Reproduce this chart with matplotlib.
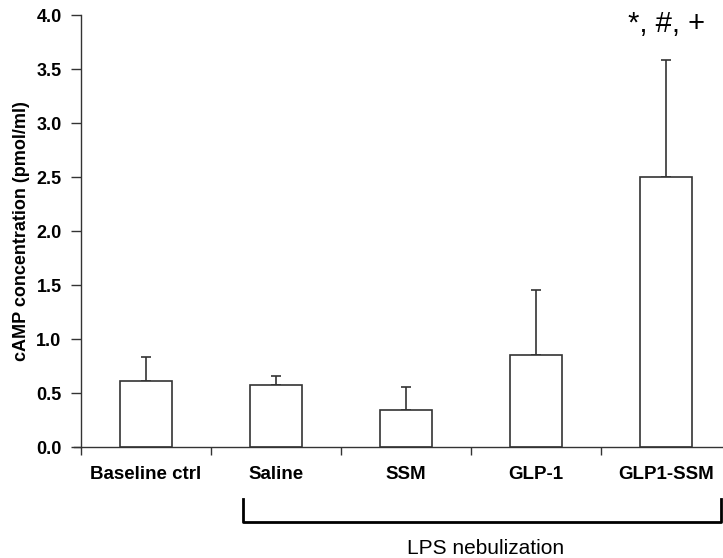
import numpy as np
import matplotlib
matplotlib.use('Agg')
import matplotlib.pyplot as plt
import matplotlib.transforms as mtransforms

# Values
groups = ['Baseline ctrl', 'Saline', 'SSM', 'GLP-1', 'GLP1-SSM']
camp_means = [0.61, 0.57, 0.34, 0.85, 2.50]
camp_sem = [0.22, 0.09, 0.22, 0.60, 1.08]
y_ticks = [0.0, 0.5, 1.0, 1.5, 2.0, 2.5, 3.0, 3.5, 4.0]
significance_label = '*, #, +'
bracket_label = 'LPS nebulization'

plt.rcParams['font.family'] = ['Liberation Sans', 'DejaVu Sans']

fig = plt.figure(figsize=(7.23, 5.58), dpi=100)
# axis runs a little past the right edge of the picture, as in the original
ax = fig.add_axes([81 / 723, 111 / 558, 650 / 723, 432 / 558])

x = np.arange(len(groups))
edge = '#333333'
ax.bar(x, camp_means, width=0.4, color='white', edgecolor=edge, linewidth=1.2, zorder=2)
ax.errorbar(x, camp_means, yerr=[np.zeros(len(x)), camp_sem], fmt='none',
            ecolor=edge, elinewidth=1.2, capsize=3.5, capthick=1.2, zorder=1)

ax.set_xlim(-0.5, len(groups) - 0.5)
ax.set_ylim(0, 4.0)
ax.set_yticks(y_ticks)
ax.set_yticklabels(['%.1f' % v for v in y_ticks])

# category labels between boundary ticks
ax.set_xticks(np.arange(len(groups) + 1) - 0.5)
ax.set_xticklabels([])
ax.set_xticks(x, minor=True)
ax.set_xticklabels(groups, minor=True, fontweight='bold', fontsize=13.5)
ax.tick_params(axis='x', which='minor', length=0, pad=14)
ax.tick_params(axis='x', which='major', length=6, width=1, color=edge)
ax.tick_params(axis='y', length=7, width=1, color=edge, pad=7)
for lab in ax.get_yticklabels():
    lab.set_fontweight('bold')
    lab.set_fontsize(13)

for side in ['top', 'right']:
    ax.spines[side].set_visible(False)
for side in ['left', 'bottom']:
    ax.spines[side].set_color(edge)
    ax.spines[side].set_linewidth(1)
ax.spines['bottom'].set_bounds(-0.555, len(groups) - 0.5)

ax.set_ylabel('cAMP concentration (pmol/ml)', fontweight='bold', fontsize=13)
ax.yaxis.set_label_coords(-0.078, 0.5)

# significance marks above the last bar
last = len(groups) - 1
ax.text(x[last], 3.92, significance_label, ha='center', va='center', fontsize=21)

# bracket for the LPS-nebulized groups
trans = mtransforms.blended_transform_factory(ax.transData, ax.transAxes)
ax.plot([0.745, 0.745, 4.42, 4.42], [-0.120, -0.174, -0.174, -0.120],
        color='black', linewidth=2, transform=trans, clip_on=False)
ax.text(2.61, -0.235, bracket_label, ha='center', va='center', fontsize=15,
        transform=trans)

fig.savefig('out.png', dpi=100)
